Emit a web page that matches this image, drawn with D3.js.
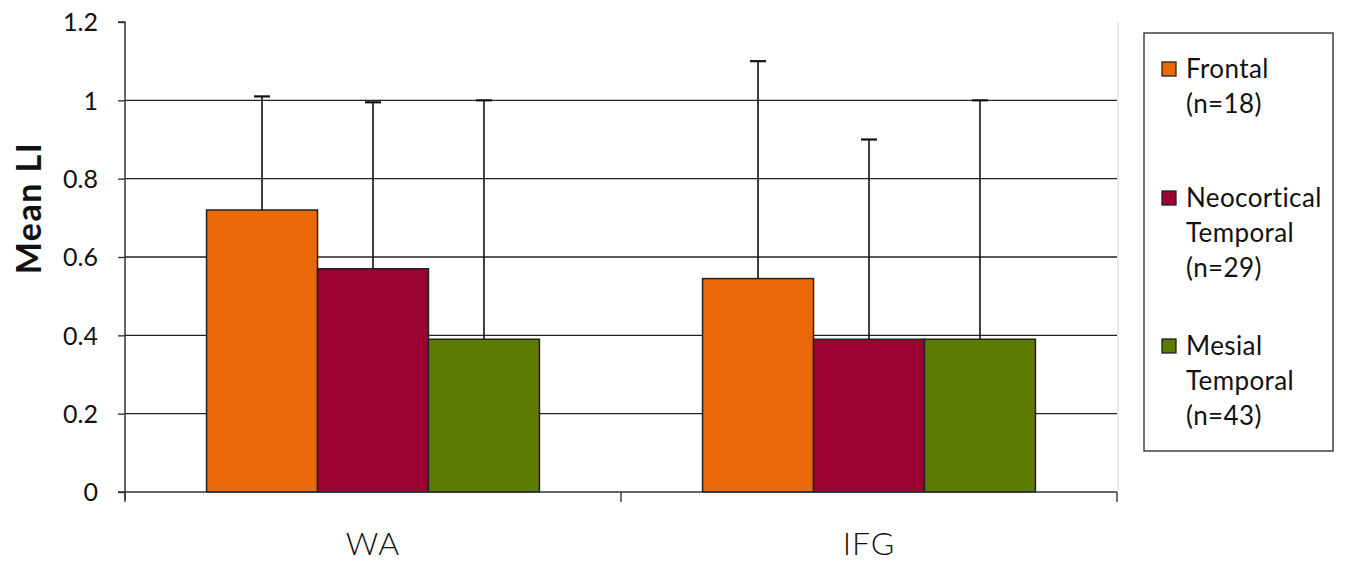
<!DOCTYPE html>
<html>
<head>
<meta charset="utf-8">
<script src="https://cdn.jsdelivr.net/npm/d3@7"></script>
<style>
  html, body { margin: 0; padding: 0; background: #fff; }
  svg { display: block; }
  text { font-family: Lato, "Open Sans", sans-serif; fill: #111; }
</style>
</head>
<body>
<svg id="chart" width="1347" height="565"></svg>
<script>
const categories = ["WA", "IFG"];
const seriesNames = ["Frontal", "Neocortical Temporal", "Mesial Temporal"];
const legendLines = [["Frontal", "(n=18)"], ["Neocortical", "Temporal", "(n=29)"], ["Mesial", "Temporal", "(n=43)"]];
const colors = ["#EA6808", "#9B0430", "#5C7A00"];
const meanWA = [0.72, 0.57, 0.39];
const meanIFG = [0.545, 0.39, 0.39];
const upperWA = [1.01, 0.995, 1.0];
const upperIFG = [1.10, 0.90, 1.0];
const yTicks = [0, 0.2, 0.4, 0.6, 0.8, 1, 1.2];
const yTickLabels = ["0", "0.2", "0.4", "0.6", "0.8", "1", "1.2"];

const means = [meanWA, meanIFG];
const uppers = [upperWA, upperIFG];

const svg = d3.select("#chart");
const pLeft = 125, pRight = 1117, pTop = 22, pBottom = 492;

const y = d3.scaleLinear().domain([0, 1.2]).range([pBottom, pTop]);
const x0 = d3.scaleBand().domain(categories).range([pLeft, pRight]).paddingInner(0).paddingOuter(0);
const x1 = d3.scaleBand().domain(seriesNames).range([0, x0.bandwidth()]).paddingInner(0).paddingOuter(0.735);

// right plot border (faint)
svg.append("line").attr("x1", pRight + 1).attr("x2", pRight + 1).attr("y1", pTop).attr("y2", pBottom)
  .attr("stroke", "#dde3e3").attr("stroke-width", 1.5);

// gridlines
svg.append("g").selectAll("line").data(yTicks.filter(d => d > 0 && d < 1.2)).join("line")
  .attr("x1", pLeft).attr("x2", pRight)
  .attr("y1", d => y(d)).attr("y2", d => y(d))
  .attr("stroke", "#222").attr("stroke-width", 1.4);

// bars
const data = [];
categories.forEach((c, i) => seriesNames.forEach((s, j) => data.push({c, s, j, v: means[i][j], u: uppers[i][j]})));

svg.append("g").selectAll("rect").data(data).join("rect")
  .attr("x", d => x0(d.c) + x1(d.s))
  .attr("y", d => y(d.v))
  .attr("width", x1.bandwidth())
  .attr("height", d => y(0) - y(d.v))
  .attr("fill", d => colors[d.j])
  .attr("stroke", "#222").attr("stroke-width", 1.5);

// error bars
const eb = svg.append("g").attr("stroke", "#111").attr("stroke-width", 1.6);
eb.selectAll("line.v").data(data).join("line").attr("class", "v")
  .attr("x1", d => x0(d.c) + x1(d.s) + x1.bandwidth() / 2)
  .attr("x2", d => x0(d.c) + x1(d.s) + x1.bandwidth() / 2)
  .attr("y1", d => y(d.v)).attr("y2", d => y(d.u));
eb.selectAll("line.c").data(data).join("line").attr("class", "c")
  .attr("x1", d => x0(d.c) + x1(d.s) + x1.bandwidth() / 2 - 8)
  .attr("x2", d => x0(d.c) + x1(d.s) + x1.bandwidth() / 2 + 8)
  .attr("y1", d => y(d.u)).attr("y2", d => y(d.u))
  .attr("stroke-width", 2.2);

// y axis
const yAxis = d3.axisLeft(y).tickValues(yTicks).tickFormat((d, i) => yTickLabels[i]).tickSize(7).tickPadding(20);
const gy = svg.append("g").attr("transform", `translate(${pLeft},0)`).call(yAxis);
gy.select(".domain").attr("stroke", "#333").attr("stroke-width", 1.5).attr("d", `M-7,${pTop}H0V${pBottom + 8}`);
gy.selectAll(".tick line").attr("stroke", "#333").attr("stroke-width", 1.4);
gy.selectAll(".tick text").style("font-size", "25px").attr("fill", "#111").attr("dy", "0.35em");

// x axis
const xEdges = [pLeft, ...categories.map(c => x0(c) + x0.bandwidth())];
svg.append("line").attr("x1", pLeft - 7).attr("x2", pRight).attr("y1", pBottom).attr("y2", pBottom)
  .attr("stroke", "#333").attr("stroke-width", 1.5);
svg.append("g").selectAll("line").data(xEdges).join("line")
  .attr("x1", d => d).attr("x2", d => d).attr("y1", pBottom).attr("y2", pBottom + 10)
  .attr("stroke", "#333").attr("stroke-width", 1.4);
svg.append("g").selectAll("text").data(categories).join("text")
  .attr("x", d => x0(d) + x0.bandwidth() / 2)
  .attr("y", 555)
  .attr("text-anchor", "middle")
  .style("font-size", "32px").style("font-weight", "300").style("letter-spacing", "1px")
  .text(d => d);

// y title
svg.append("text")
  .attr("transform", `translate(41,208) rotate(-90)`)
  .attr("text-anchor", "middle")
  .style("font-size", "34px").style("font-weight", "bold").style("letter-spacing", "1.5px")
  .text("Mean LI");

// legend
const lg = svg.append("g");
lg.append("rect").attr("x", 1144).attr("y", 33).attr("width", 189).attr("height", 418)
  .attr("fill", "#fff").attr("stroke", "#333").attr("stroke-width", 1.4);
const entryY = [78, 207, 355];
const lineH = 35;
seriesNames.forEach((s, j) => {
  lg.append("rect").attr("x", 1162).attr("y", entryY[j] - 16).attr("width", 14).attr("height", 14)
    .attr("fill", colors[j]).attr("stroke", "#222").attr("stroke-width", 1.3);
  legendLines[j].forEach((t, k) => {
    lg.append("text").attr("x", 1186).attr("y", entryY[j] + k * lineH)
      .style("font-size", "26px").style("letter-spacing", "0.4px").text(t);
  });
});
</script>
</body>
</html>
